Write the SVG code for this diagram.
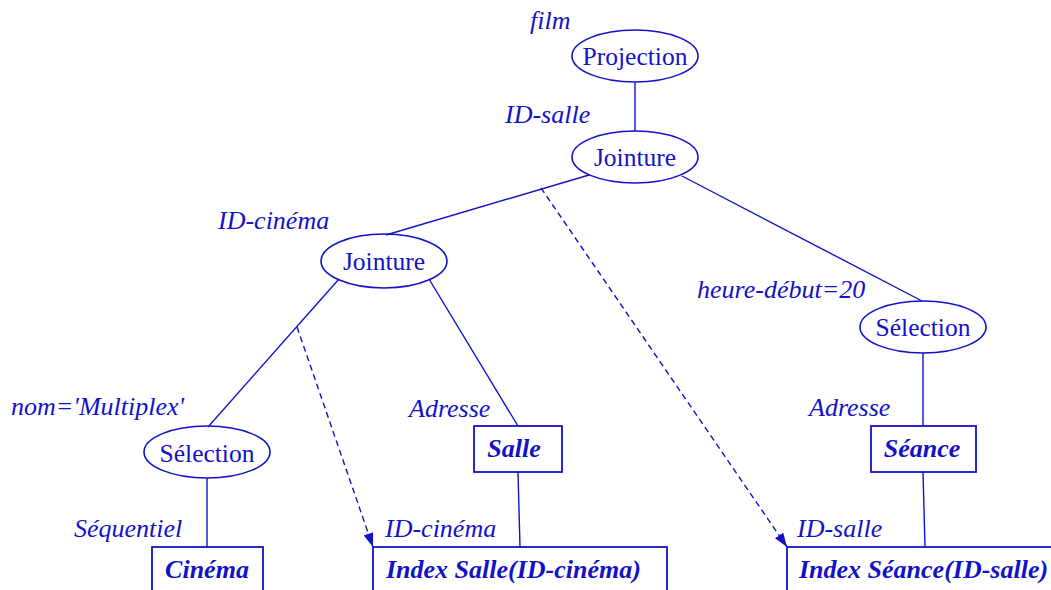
<svg xmlns="http://www.w3.org/2000/svg" width="1051" height="590" viewBox="0 0 1051 590">
  <defs>
    <style>
      .op { fill: none; stroke: #1212c8; stroke-width: 1.6; }
      .tbl { fill: none; stroke: #1212c8; stroke-width: 1.8; }
      .edge { fill: none; stroke: #1212c8; stroke-width: 1.4; }
      .dash { fill: none; stroke: #1212c8; stroke-width: 1.4; stroke-dasharray: 6 4; }
      .name { font-family: "Liberation Serif", "Times New Roman", serif; font-size: 25.5px; fill: #1212c8; }
      .rel { font-family: "Liberation Serif", "Times New Roman", serif; font-size: 26px; font-weight: bold; font-style: italic; fill: #1212c8; }
      .ann { font-family: "Liberation Serif", "Times New Roman", serif; font-size: 26px; font-style: italic; fill: #1212c8; }
    </style>
    <marker id="arrow" viewBox="0 0 14 10" refX="14" refY="5" markerWidth="14" markerHeight="10" markerUnits="userSpaceOnUse" orient="auto">
      <path d="M0,0 L14,5 L0,10 Z" fill="#1212c8"/>
    </marker>
  </defs>

  <!-- connectors -->
  <g id="connectors">
    <line class="edge" x1="635" y1="82" x2="635" y2="131"/>
    <line class="edge" x1="589" y1="175" x2="386" y2="235"/>
    <line class="edge" x1="682" y1="176" x2="922" y2="301"/>
    <line class="edge" x1="339" y1="279" x2="208" y2="427"/>
    <line class="edge" x1="429" y1="279" x2="518" y2="426"/>
    <line class="edge" x1="207" y1="478" x2="207" y2="547"/>
    <line class="edge" x1="518" y1="472" x2="520" y2="547"/>
    <line class="edge" x1="923" y1="353" x2="923" y2="426"/>
    <line class="edge" x1="923" y1="472" x2="925" y2="547"/>
    <line class="dash" x1="297" y1="327" x2="373" y2="547" marker-end="url(#arrow)"/>
    <line class="dash" x1="541" y1="188" x2="787" y2="547" marker-end="url(#arrow)"/>
  </g>

  <!-- operators and relations -->
  <g id="projection">
    <ellipse class="op" cx="635" cy="56" rx="63" ry="26"/>
    <text class="name" x="635" y="65" text-anchor="middle">Projection</text>
    <text class="ann" x="530" y="29">film</text>
  </g>

  <g id="jointure-salle">
    <ellipse class="op" cx="635" cy="157" rx="63" ry="26"/>
    <text class="name" x="635" y="166" text-anchor="middle">Jointure</text>
    <text class="ann" x="505" y="123">ID-salle</text>
  </g>

  <g id="jointure-cinema">
    <ellipse class="op" cx="384" cy="261" rx="63" ry="27"/>
    <text class="name" x="384" y="270" text-anchor="middle">Jointure</text>
    <text class="ann" x="218" y="229">ID-cinéma</text>
  </g>

  <g id="selection-cinema">
    <ellipse class="op" cx="207" cy="452" rx="63" ry="26"/>
    <text class="name" x="207" y="462" text-anchor="middle">Sélection</text>
    <text class="ann" x="11" y="415">nom='Multiplex'</text>
  </g>

  <g id="selection-seance">
    <ellipse class="op" cx="923" cy="327" rx="63" ry="26"/>
    <text class="name" x="923" y="336" text-anchor="middle">Sélection</text>
    <text class="ann" x="697" y="298">heure-début=20</text>
  </g>

  <g id="cinema">
    <rect class="tbl" x="152" y="547" width="111" height="60"/>
    <text class="rel" x="207" y="578" text-anchor="middle">Cinéma</text>
    <text class="ann" x="74" y="537">Séquentiel</text>
  </g>

  <g id="salle">
    <rect class="tbl" x="474" y="426" width="88" height="46"/>
    <text class="rel" x="514" y="457" text-anchor="middle">Salle</text>
    <text class="ann" x="409" y="417">Adresse</text>
  </g>

  <g id="index-salle">
    <rect class="tbl" x="373" y="547" width="294" height="60"/>
    <text class="rel" x="386" y="578">Index Salle(ID-cinéma)</text>
    <text class="ann" x="385" y="537">ID-cinéma</text>
  </g>

  <g id="seance">
    <rect class="tbl" x="871" y="426" width="105" height="46"/>
    <text class="rel" x="922" y="457" text-anchor="middle">Séance</text>
    <text class="ann" x="809" y="416">Adresse</text>
  </g>

  <g id="index-seance">
    <rect class="tbl" x="787" y="547" width="300" height="60"/>
    <text class="rel" x="799" y="578">Index Séance(ID-salle)</text>
    <text class="ann" x="797" y="537">ID-salle</text>
  </g>
</svg>
